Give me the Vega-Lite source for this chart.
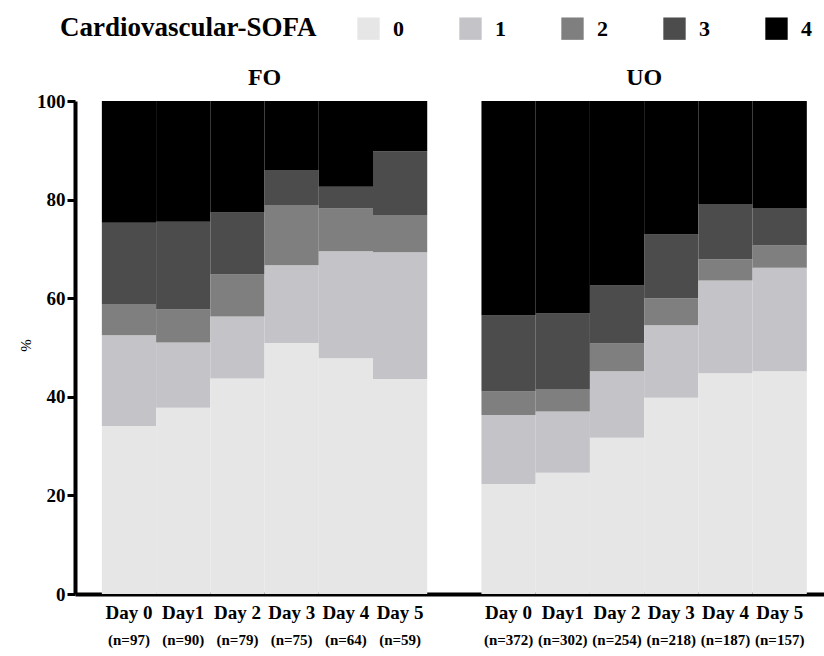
{
  "$schema": "https://vega.github.io/schema/vega-lite/v6.json",
  "autosize": "none",
  "padding": {"left": 75, "top": 101, "right": 0, "bottom": 62},
  "width": 749,
  "height": 493,
  "config": {
    "font": "Liberation Serif",
    "view": {"stroke": null},
    "background": "white",
    "axis": {"labelFont": "Liberation Serif", "titleFont": "Liberation Serif"},
    "legend": {"labelFont": "Liberation Serif", "titleFont": "Liberation Serif"},
    "text": {"font": "Liberation Serif"}
  },
  "datasets": {
    "bars": [
      {"slot": "FO|Day 0|(n=97)", "sofa": "0", "pct": 34.1},
      {"slot": "FO|Day 0|(n=97)", "sofa": "1", "pct": 18.4},
      {"slot": "FO|Day 0|(n=97)", "sofa": "2", "pct": 6.3},
      {"slot": "FO|Day 0|(n=97)", "sofa": "3", "pct": 16.5},
      {"slot": "FO|Day 0|(n=97)", "sofa": "4", "pct": 24.7},
      {"slot": "FO|Day1|(n=90)", "sofa": "0", "pct": 37.8},
      {"slot": "FO|Day1|(n=90)", "sofa": "1", "pct": 13.2},
      {"slot": "FO|Day1|(n=90)", "sofa": "2", "pct": 6.7},
      {"slot": "FO|Day1|(n=90)", "sofa": "3", "pct": 17.8},
      {"slot": "FO|Day1|(n=90)", "sofa": "4", "pct": 24.5},
      {"slot": "FO|Day 2|(n=79)", "sofa": "0", "pct": 43.7},
      {"slot": "FO|Day 2|(n=79)", "sofa": "1", "pct": 12.6},
      {"slot": "FO|Day 2|(n=79)", "sofa": "2", "pct": 8.5},
      {"slot": "FO|Day 2|(n=79)", "sofa": "3", "pct": 12.6},
      {"slot": "FO|Day 2|(n=79)", "sofa": "4", "pct": 22.6},
      {"slot": "FO|Day 3|(n=75)", "sofa": "0", "pct": 50.9},
      {"slot": "FO|Day 3|(n=75)", "sofa": "1", "pct": 15.8},
      {"slot": "FO|Day 3|(n=75)", "sofa": "2", "pct": 12.2},
      {"slot": "FO|Day 3|(n=75)", "sofa": "3", "pct": 7.1},
      {"slot": "FO|Day 3|(n=75)", "sofa": "4", "pct": 14.0},
      {"slot": "FO|Day 4|(n=64)", "sofa": "0", "pct": 47.8},
      {"slot": "FO|Day 4|(n=64)", "sofa": "1", "pct": 21.7},
      {"slot": "FO|Day 4|(n=64)", "sofa": "2", "pct": 8.7},
      {"slot": "FO|Day 4|(n=64)", "sofa": "3", "pct": 4.4},
      {"slot": "FO|Day 4|(n=64)", "sofa": "4", "pct": 17.4},
      {"slot": "FO|Day 5|(n=59)", "sofa": "0", "pct": 43.6},
      {"slot": "FO|Day 5|(n=59)", "sofa": "1", "pct": 25.7},
      {"slot": "FO|Day 5|(n=59)", "sofa": "2", "pct": 7.6},
      {"slot": "FO|Day 5|(n=59)", "sofa": "3", "pct": 12.9},
      {"slot": "FO|Day 5|(n=59)", "sofa": "4", "pct": 10.2},
      {"slot": "UO|Day 0|(n=372)", "sofa": "0", "pct": 22.3},
      {"slot": "UO|Day 0|(n=372)", "sofa": "1", "pct": 14.0},
      {"slot": "UO|Day 0|(n=372)", "sofa": "2", "pct": 4.8},
      {"slot": "UO|Day 0|(n=372)", "sofa": "3", "pct": 15.4},
      {"slot": "UO|Day 0|(n=372)", "sofa": "4", "pct": 43.5},
      {"slot": "UO|Day1|(n=302)", "sofa": "0", "pct": 24.6},
      {"slot": "UO|Day1|(n=302)", "sofa": "1", "pct": 12.4},
      {"slot": "UO|Day1|(n=302)", "sofa": "2", "pct": 4.6},
      {"slot": "UO|Day1|(n=302)", "sofa": "3", "pct": 15.3},
      {"slot": "UO|Day1|(n=302)", "sofa": "4", "pct": 43.1},
      {"slot": "UO|Day 2|(n=254)", "sofa": "0", "pct": 31.7},
      {"slot": "UO|Day 2|(n=254)", "sofa": "1", "pct": 13.5},
      {"slot": "UO|Day 2|(n=254)", "sofa": "2", "pct": 5.6},
      {"slot": "UO|Day 2|(n=254)", "sofa": "3", "pct": 11.8},
      {"slot": "UO|Day 2|(n=254)", "sofa": "4", "pct": 37.4},
      {"slot": "UO|Day 3|(n=218)", "sofa": "0", "pct": 39.8},
      {"slot": "UO|Day 3|(n=218)", "sofa": "1", "pct": 14.7},
      {"slot": "UO|Day 3|(n=218)", "sofa": "2", "pct": 5.5},
      {"slot": "UO|Day 3|(n=218)", "sofa": "3", "pct": 12.9},
      {"slot": "UO|Day 3|(n=218)", "sofa": "4", "pct": 27.1},
      {"slot": "UO|Day 4|(n=187)", "sofa": "0", "pct": 44.8},
      {"slot": "UO|Day 4|(n=187)", "sofa": "1", "pct": 18.8},
      {"slot": "UO|Day 4|(n=187)", "sofa": "2", "pct": 4.3},
      {"slot": "UO|Day 4|(n=187)", "sofa": "3", "pct": 11.2},
      {"slot": "UO|Day 4|(n=187)", "sofa": "4", "pct": 20.9},
      {"slot": "UO|Day 5|(n=157)", "sofa": "0", "pct": 45.2},
      {"slot": "UO|Day 5|(n=157)", "sofa": "1", "pct": 21.0},
      {"slot": "UO|Day 5|(n=157)", "sofa": "2", "pct": 4.5},
      {"slot": "UO|Day 5|(n=157)", "sofa": "3", "pct": 7.6},
      {"slot": "UO|Day 5|(n=157)", "sofa": "4", "pct": 21.7}
    ],
    "titles": [
      {"slot": "FO|Day 2|(n=79)", "label": "FO"},
      {"slot": "UO|Day 2|(n=254)", "label": "UO"}
    ]
  },
  "layer": [
    {
      "data": {"name": "bars"},
      "mark": {"type": "bar", "strokeWidth": 0},
      "encoding": {
        "x": {
          "field": "slot",
          "type": "nominal",
          "scale": {
            "type": "band",
            "domain": ["FO|Day 0|(n=97)", "FO|Day1|(n=90)", "FO|Day 2|(n=79)", "FO|Day 3|(n=75)", "FO|Day 4|(n=64)", "FO|Day 5|(n=59)", "gap| | ", "UO|Day 0|(n=372)", "UO|Day1|(n=302)", "UO|Day 2|(n=254)", "UO|Day 3|(n=218)", "UO|Day 4|(n=187)", "UO|Day 5|(n=157)"],
            "paddingInner": 0,
            "paddingOuter": 0.406,
            "align": 0.61
          },
          "axis": {
            "orient": "bottom",
            "title": null,
            "labelExpr": "split(datum.value, '|')[1]",
            "labelAngle": 0,
            "labelFont": "Liberation Serif",
            "labelFontSize": 19,
            "labelFontWeight": "bold",
            "labelColor": "black",
            "labelPadding": 9,
            "ticks": false,
            "domainColor": "black",
            "domainWidth": 4,
            "grid": false
          }
        },
        "y": {
          "field": "pct",
          "type": "quantitative",
          "stack": "zero",
          "scale": {"domain": [0, 100], "nice": false},
          "axis": {
            "values": [0, 20, 40, 60, 80, 100],
            "title": "%",
            "titleFont": "Liberation Serif",
            "titleFontSize": 15,
            "titleFontWeight": "normal",
            "titleColor": "black",
            "titleX": -50,
            "titleY": 244,
            "titleAngle": -90,
            "titleBaseline": "middle",
            "labelFont": "Liberation Serif",
            "labelFontSize": 19,
            "labelFontWeight": "bold",
            "labelColor": "black",
            "labelPadding": 2,
            "tickSize": 8,
            "tickWidth": 3,
            "tickColor": "black",
            "domainColor": "black",
            "domainWidth": 4,
            "grid": false
          }
        },
        "color": {
          "field": "sofa",
          "type": "nominal",
          "scale": {"domain": ["0", "1", "2", "3", "4"], "range": ["#e6e6e6", "#c4c3c8", "#7f7f7f", "#4c4c4c", "#000000"]},
          "legend": {
            "orient": "none",
            "legendX": -15,
            "legendY": -84,
            "direction": "horizontal",
            "title": "Cardiovascular-SOFA",
            "titleOrient": "left",
            "titleFont": "Liberation Serif",
            "titleFontSize": 27,
            "titleFontWeight": "bold",
            "titleColor": "black",
            "titleLimit": 500,
            "titlePadding": 40,
            "labelFont": "Liberation Serif",
            "labelFontSize": 22,
            "labelFontWeight": "bold",
            "labelColor": "black",
            "labelOffset": 13,
            "columnPadding": 55,
            "symbolType": "square",
            "symbolSize": 500,
            "symbolStrokeWidth": 0,
            "symbolOpacity": 1
          }
        },
        "order": {"field": "sofa", "type": "ordinal"}
      }
    },
    {
      "data": {"name": "titles"},
      "mark": {"type": "text", "font": "Liberation Serif", "fontSize": 24, "fontWeight": "bold", "color": "black", "baseline": "alphabetic", "align": "center", "dy": -16},
      "encoding": {
        "x": {
          "field": "slot",
          "type": "nominal",
          "bandPosition": 1,
          "scale": {
            "type": "band",
            "domain": ["FO|Day 0|(n=97)", "FO|Day1|(n=90)", "FO|Day 2|(n=79)", "FO|Day 3|(n=75)", "FO|Day 4|(n=64)", "FO|Day 5|(n=59)", "gap| | ", "UO|Day 0|(n=372)", "UO|Day1|(n=302)", "UO|Day 2|(n=254)", "UO|Day 3|(n=218)", "UO|Day 4|(n=187)", "UO|Day 5|(n=157)"],
            "paddingInner": 0,
            "paddingOuter": 0.406,
            "align": 0.61
          },
          "axis": {
            "orient": "bottom",
            "offset": 30,
            "title": null,
            "labelExpr": "split(datum.value, '|')[2]",
            "labelAngle": 0,
            "labelFont": "Liberation Serif",
            "labelFontSize": 15,
            "labelFontWeight": "bold",
            "labelColor": "black",
            "labelPadding": 8,
            "ticks": false,
            "domain": false,
            "grid": false
          }
        },
        "y": {"datum": 100},
        "text": {"field": "label"}
      }
    }
  ],
  "resolve": {"scale": {"x": "independent"}, "axis": {"x": "independent"}}
}
